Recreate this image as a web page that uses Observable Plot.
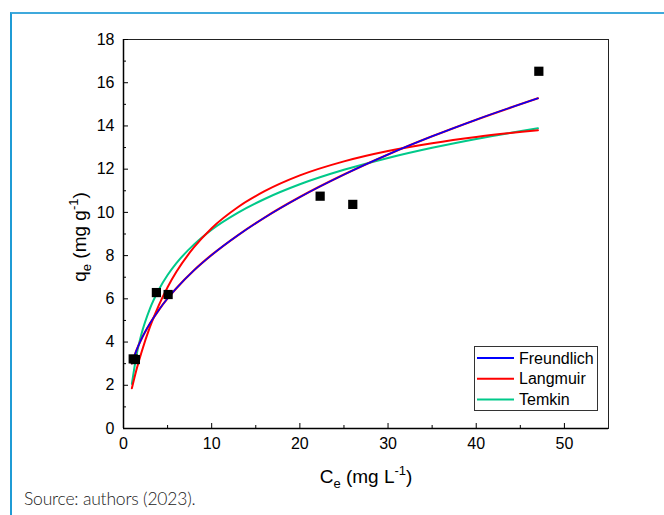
<!DOCTYPE html>
<html>
<head>
<meta charset="utf-8">
<script src="https://cdn.jsdelivr.net/npm/d3@7"></script>
<script src="https://cdn.jsdelivr.net/npm/@observablehq/plot@0.6"></script>
<style>
  html, body { margin: 0; padding: 0; background: #fff; }
  #wrap { position: relative; width: 664px; height: 515px; overflow: hidden; }
  #border { position: absolute; left: 10px; top: 12px; right: -4px; bottom: -4px;
            border-top: 2px solid #3fa9dc; border-left: 2px solid #1f9bd5; }
  #chart { position: absolute; left: 0; top: 0; }
  #caption { position: absolute; left: 24px; top: 488px; font-family: Lato, "Open Sans", sans-serif;
             font-weight: 300; font-size: 17.5px; letter-spacing: -0.2px; color: #1a1a1a; white-space: nowrap; }
</style>
</head>
<body>
<div id="wrap">
  <div id="border"></div>
  <div id="chart"></div>
  <div id="caption">Source: authors (2023).</div>
</div>
<script>
// Experimental points (Ce, qe)
const pointC = [1.1, 1.35, 3.73, 5.06, 22.3, 26.0, 47.1];
const pointQ = [3.22, 3.19, 6.29, 6.2, 10.75, 10.37, 16.53];

// Model curves
const curveC = [0.95, 1.5, 2, 3, 4, 5, 6, 8, 10, 13, 16, 20, 25, 30, 35, 40, 47];
const freundlichQ = [3.01, 3.65, 4.11, 4.86, 5.48, 6.02, 6.49, 7.32, 8.03, 8.95, 9.76, 10.71, 11.75, 12.68, 13.52, 14.29, 15.28];
const langmuirQ   = [1.86, 2.76, 3.47, 4.70, 5.70, 6.54, 7.25, 8.39, 9.27, 10.25, 10.98, 11.71, 12.36, 12.84, 13.20, 13.49, 13.80];
const temkinQ     = [2.06, 3.45, 4.32, 5.55, 6.42, 7.10, 7.65, 8.52, 9.20, 9.99, 10.62, 11.30, 11.97, 12.52, 12.99, 13.40, 13.89];

const seriesNames = ["Freundlich", "Langmuir", "Temkin"];
const seriesColors = ["#0000ff", "#ff0000", "#00c98a"];

const xMajor = [0, 10, 20, 30, 40, 50];
const xMinor = [5, 15, 25, 35, 45];
const yMajor = [0, 2, 4, 6, 8, 10, 12, 14, 16, 18];
const yMinor = [1, 3, 5, 7, 9, 11, 13, 15, 17];

const points = pointC.map((c, i) => ({c, q: pointQ[i]}));
const mk = (name, arr) => curveC.map((c, i) => ({c, q: arr[i], name}));
const fr = mk("Freundlich", freundlichQ);
const la = mk("Langmuir", langmuirQ);
const te = mk("Temkin", temkinQ);

// tick lengths in pixels converted to data units
const pxX = 55 / (664 - 123 - 56);
const pxY = 18 / (490 - 39 - 62);

const plot = Plot.plot({
  width: 664,
  height: 490,
  marginLeft: 123,
  marginRight: 56,
  marginTop: 39,
  marginBottom: 62,
  x: {domain: [0, 55], label: null},
  y: {domain: [0, 18], label: null},
  style: {fontFamily: "'Liberation Sans', Arial, sans-serif", fontSize: "16px", color: "#000", background: "transparent", overflow: "visible"},
  marks: [
    Plot.frame({stroke: "#222", strokeWidth: 1}),
    Plot.ruleY([0], {stroke: "#000", strokeWidth: 1.5}),
    Plot.ruleX([0], {stroke: "#000", strokeWidth: 1.5}),
    Plot.axisX({ticks: xMajor, tickSize: 0, tickPadding: 9, fontSize: 16, label: null, tickFormat: d => String(d)}),
    Plot.axisY({ticks: yMajor, tickSize: 0, tickPadding: 9, fontSize: 16, label: null, tickFormat: d => String(d)}),
    Plot.ruleX(xMajor, {x: d => d, y1: 0, y2: 5 * pxY, stroke: "#000"}),
    Plot.ruleX(xMinor, {x: d => d, y1: 0, y2: 3 * pxY, stroke: "#000"}),
    Plot.ruleY(yMajor, {y: d => d, x1: 0, x2: 5 * pxX, stroke: "#000"}),
    Plot.ruleY(yMinor, {y: d => d, x1: 0, x2: 3 * pxX, stroke: "#000"}),
    Plot.line(te, {x: "c", y: "q", stroke: seriesColors[2], strokeWidth: 2, curve: "monotone-x"}),
    Plot.line(la, {x: "c", y: "q", stroke: seriesColors[1], strokeWidth: 2, curve: "monotone-x"}),
    Plot.line(fr, {x: "c", y: "q", stroke: seriesColors[1], strokeWidth: 2.2, curve: "monotone-x"}),
    Plot.line(fr, {x: "c", y: "q", stroke: seriesColors[0], strokeWidth: 1.5, curve: "monotone-x"}),
    Plot.dot(points, {x: "c", y: "q", symbol: "square", r: 5.2, fill: "#000", stroke: "none"})
  ]
});

document.getElementById("chart").appendChild(plot);

const svg = d3.select(plot);
const font = "'Liberation Sans', Arial, sans-serif";

// x-axis title
const xl = svg.append("text").attr("x", 366).attr("y", 483).attr("text-anchor", "middle")
  .attr("font-family", font).attr("font-size", 19).attr("fill", "#000");
xl.append("tspan").text("C");
xl.append("tspan").attr("font-size", 13).attr("dy", 5).text("e");
xl.append("tspan").attr("dy", -5).text(" (mg L");
xl.append("tspan").attr("font-size", 13).attr("dy", -8).text("-1");
xl.append("tspan").attr("dy", 8).text(")");

// y-axis title
const yl = svg.append("text").attr("transform", "translate(86,237) rotate(-90)").attr("text-anchor", "middle")
  .attr("font-family", font).attr("font-size", 19).attr("fill", "#000");
yl.append("tspan").text("q");
yl.append("tspan").attr("font-size", 13).attr("dy", 5).text("e");
yl.append("tspan").attr("dy", -5).text(" (mg g");
yl.append("tspan").attr("font-size", 13).attr("dy", -8).text("-1");
yl.append("tspan").attr("dy", 8).text(")");

// legend
const lg = svg.append("g");
lg.append("rect").attr("x", 474.5).attr("y", 346.5).attr("width", 123).attr("height", 64)
  .attr("fill", "#fff").attr("stroke", "#333").attr("stroke-width", 1);
seriesNames.forEach((name, i) => {
  const cy = 358 + i * 20.7;
  lg.append("line").attr("x1", 477).attr("x2", 514).attr("y1", cy).attr("y2", cy)
    .attr("stroke", seriesColors[i]).attr("stroke-width", 2);
  lg.append("text").attr("x", 519).attr("y", cy).attr("dy", "0.36em").attr("text-anchor", "start")
    .attr("font-family", font).attr("font-size", 16).attr("fill", "#000").text(name);
});
</script>
</body>
</html>
